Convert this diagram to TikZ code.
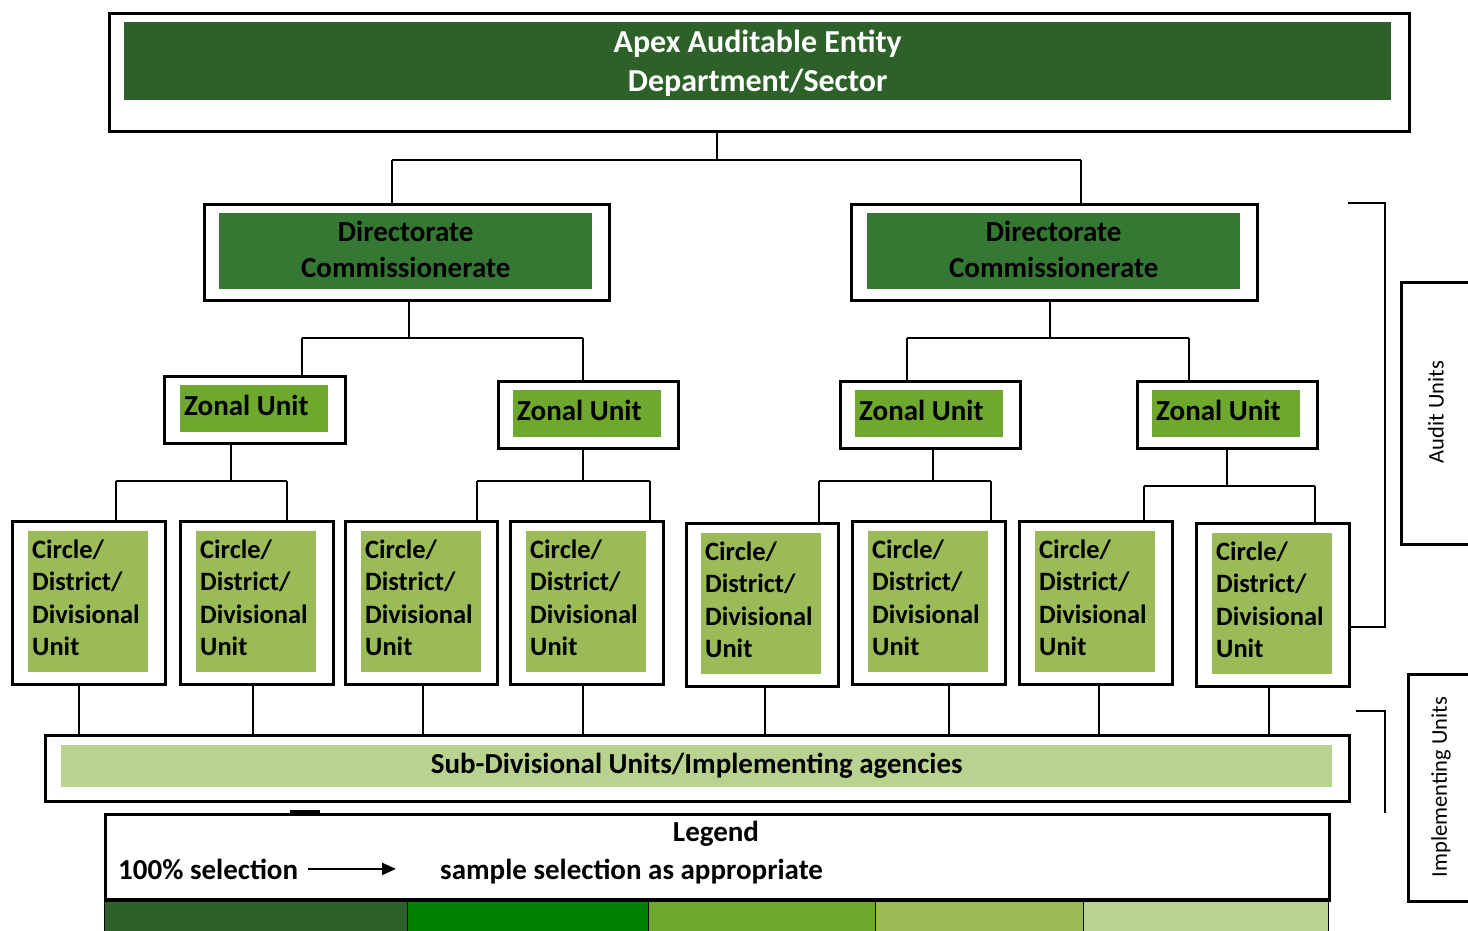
\documentclass[tikz,border=0pt]{standalone}
\usepackage{fontspec}
\setmainfont{Carlito}
\usetikzlibrary{arrows.meta}
\definecolor{apexg}{RGB}{45,97,41}
\definecolor{dirg}{RGB}{53,120,52}
\definecolor{legg}{RGB}{0,128,0}
\definecolor{zong}{RGB}{110,168,46}
\definecolor{circg}{RGB}{155,187,89}
\definecolor{subg}{RGB}{184,210,143}
\newcommand\obox[5]{\node[outer, minimum width={(#4-#2)*1pt}, minimum height={(#5-#3)*1pt}] (#1) at (#2,#3) {};}
\newcommand\tee[7]{%
  \coordinate (#1s) at (#2,#3); \coordinate (#1l) at (#4,#3); \coordinate (#1r) at (#5,#3);
  \draw[conn] (#1.south -| #1s) -- (#1s);
  \draw[conn] (#1l) -- (#1r);
  \draw[conn] (#1l) -- (#1l |- #6.north);
  \draw[conn] (#1r) -- (#1r |- #7.north);}
\newcommand\circbox[3]{%
  \node[circst] (#1) at (#2,#3) {};
  \node[circtxt] (#1t) at ([xshift=4pt,yshift=4pt]#1.west) {Circle/\\District/\\Divisional\\Unit};}
\newcommand\zonbox[3]{%
  \node[zonst] (#1) at (#2,#3) {};
  \node[zontxt] (#1t) at ([xshift=4pt,yshift=3pt]#1.west) {Zonal Unit};}
\begin{document}
\begin{tikzpicture}[x=1pt,y=-1pt,
  outer/.style={draw, line width=2.5pt, inner sep=0pt, anchor=north west},
  conn/.style={draw, line width=2pt},
  inbox/.style={anchor=north west, inner sep=0pt},
  apexst/.style={inbox, fill=apexg, minimum width=1267pt, minimum height=78pt},
  apextxt/.style={inner sep=0pt, align=center, text=white, font=\bfseries\fontsize{32}{39}\selectfont},
  dirst/.style={inbox, fill=dirg, minimum width=373pt, minimum height=76pt},
  dirtxt/.style={inner sep=0pt, align=center, font=\bfseries\fontsize{29}{36}\selectfont},
  zonst/.style={inbox, fill=zong, minimum width=148pt, minimum height=47pt},
  zontxt/.style={anchor=west, inner sep=0pt, font=\bfseries\fontsize{29}{35}\selectfont},
  circst/.style={inbox, fill=circg, minimum width=120pt, minimum height=141pt},
  circtxt/.style={anchor=west, inner sep=0pt, align=left, text width=116pt,
     font=\bfseries\fontsize{26.5}{32.4}\selectfont},
  subst/.style={inbox, fill=subg, minimum width=1271pt, minimum height=42pt, align=center,
     font=\bfseries\fontsize{29}{35}\selectfont},
  legtxt/.style={inner sep=0pt, font=\bfseries\fontsize{29}{35}\selectfont},
  cell/.style={draw, line width=1.2pt, anchor=north west, inner sep=0pt, minimum height=40pt},
  sidetxt/.style={rotate=90, inner sep=0pt, font=\fontsize{22.5}{27}\selectfont}]
\useasboundingbox (0,0) rectangle (1468,930);
% Apex
\obox{apexo}{108}{12}{1408}{130}
\node[apexst] (apex) at (124,22) {};
\node[apextxt] (apext) at ([yshift=-2pt]apex.center) {Apex Auditable Entity\\Department/Sector};
% Directorates
\obox{dirLo}{203}{203}{608}{299}
\node[dirst] (dirL) at (219,213) {};
\node[dirtxt] (dirLt) at ([yshift=2pt]dirL.center) {Directorate\\Commissionerate};
\obox{dirRo}{850}{203}{1256}{299}
\node[dirst] (dirR) at (867,213) {};
\node[dirtxt] (dirRt) at ([yshift=2pt]dirR.center) {Directorate\\Commissionerate};
% Zonal units
\obox{z1o}{163}{375}{344}{442}
\zonbox{z1}{180}{385}
\obox{z2o}{497}{380}{677}{447}
\zonbox{z2}{513}{390}
\obox{z3o}{839}{380}{1019}{447}
\zonbox{z3}{855}{390}
\obox{z4o}{1136}{380}{1316}{447}
\zonbox{z4}{1152}{390}
% Circle units
\obox{c1o}{11}{520}{164}{683}
\circbox{c1}{28}{531}
\obox{c2o}{179}{520}{332}{683}
\circbox{c2}{196}{531}
\obox{c3o}{344}{520}{496}{683}
\circbox{c3}{361}{531}
\obox{c4o}{509}{520}{662}{683}
\circbox{c4}{526}{531}
\obox{c5o}{685}{522}{837}{685}
\circbox{c5}{701}{533}
\obox{c6o}{851}{520}{1004}{683}
\circbox{c6}{868}{531}
\obox{c7o}{1018}{520}{1171}{683}
\circbox{c7}{1035}{531}
\obox{c8o}{1195}{522}{1348}{685}
\circbox{c8}{1212}{533}
% Sub-divisional
\obox{subo}{44}{734}{1348}{800}
\node[subst] (sub) at (61,745) {Sub-Divisional Units/Implementing agencies};
% Tree connectors
\tee{apexo}{717}{160}{392}{1081}{dirLo}{dirRo}
\tee{dirLo}{409}{338}{302}{583}{z1o}{z2o}
\tee{dirRo}{1050}{338}{907}{1189}{z3o}{z4o}
\tee{z1o}{231}{481}{116}{287}{c1o}{c2o}
\tee{z2o}{583}{481}{477}{650}{c3o}{c4o}
\tee{z3o}{933}{481}{819}{991}{c5o}{c6o}
\tee{z4o}{1227}{486}{1144}{1315}{c7o}{c8o}
% Circles to sub-divisional
\foreach \c/\x in {c1o/79,c2o/253,c3o/423,c4o/583,c5o/765,c6o/949,c7o/1099,c8o/1269}{
  \coordinate (d\c) at (\x,0);
  \draw[conn] (\c.south -| d\c) -- (subo.north -| d\c);
}
% Right brackets
\coordinate (b1a) at (1348,203); \coordinate (b1b) at (1385,203); \coordinate (b1c) at (1385,627);
\draw[conn, line width=2.3pt] (b1a) -- (b1b) -- (b1c) -- (c8o.east |- b1c);
\coordinate (b2a) at (1356,711); \coordinate (b2b) at (1385,711); \coordinate (b2c) at (1385,813);
\draw[conn, line width=2.3pt] (b2a) -- (b2b) -- (b2c);
\obox{audit}{1400}{281}{1485}{543}
\node[sidetxt] (audittxt) at (1436,412) {Audit Units};
\obox{impl}{1407}{673}{1485}{900}
\node[sidetxt] (impltxt) at (1441,787) {Implementing\ Units};
% Legend
\obox{legend}{104}{813}{1328}{898}
\coordinate (mk1) at (290,812); \coordinate (mk2) at (320,812);
\draw[line width=3.5pt] (mk1) -- (mk2);
\node[legtxt] (legtitle) at (716,834) {Legend};
\node[legtxt, anchor=base west] (sel) at (118,879) {100\% selection};
\node[legtxt, anchor=base west] (samp) at (440,879) {sample selection as appropriate};
\draw[line width=2.2pt, -{Triangle[length=14pt,width=12pt]}, shorten <=10pt, shorten >=44pt] (sel.east) -- (samp.west |- sel.east);
\node[cell, fill=apexg, minimum width=303pt] (k1) at (104,898) {};
\node[cell, fill=legg, minimum width=241pt] (k2) at (407,898) {};
\node[cell, fill=zong, minimum width=227pt] (k3) at (648,898) {};
\node[cell, fill=circg, minimum width=208pt] (k4) at (875,898) {};
\node[cell, fill=subg, minimum width=245pt] (k5) at (1083,898) {};
\draw[line width=3pt] (legend.south west) -- (legend.south east);
\end{tikzpicture}
\end{document}
